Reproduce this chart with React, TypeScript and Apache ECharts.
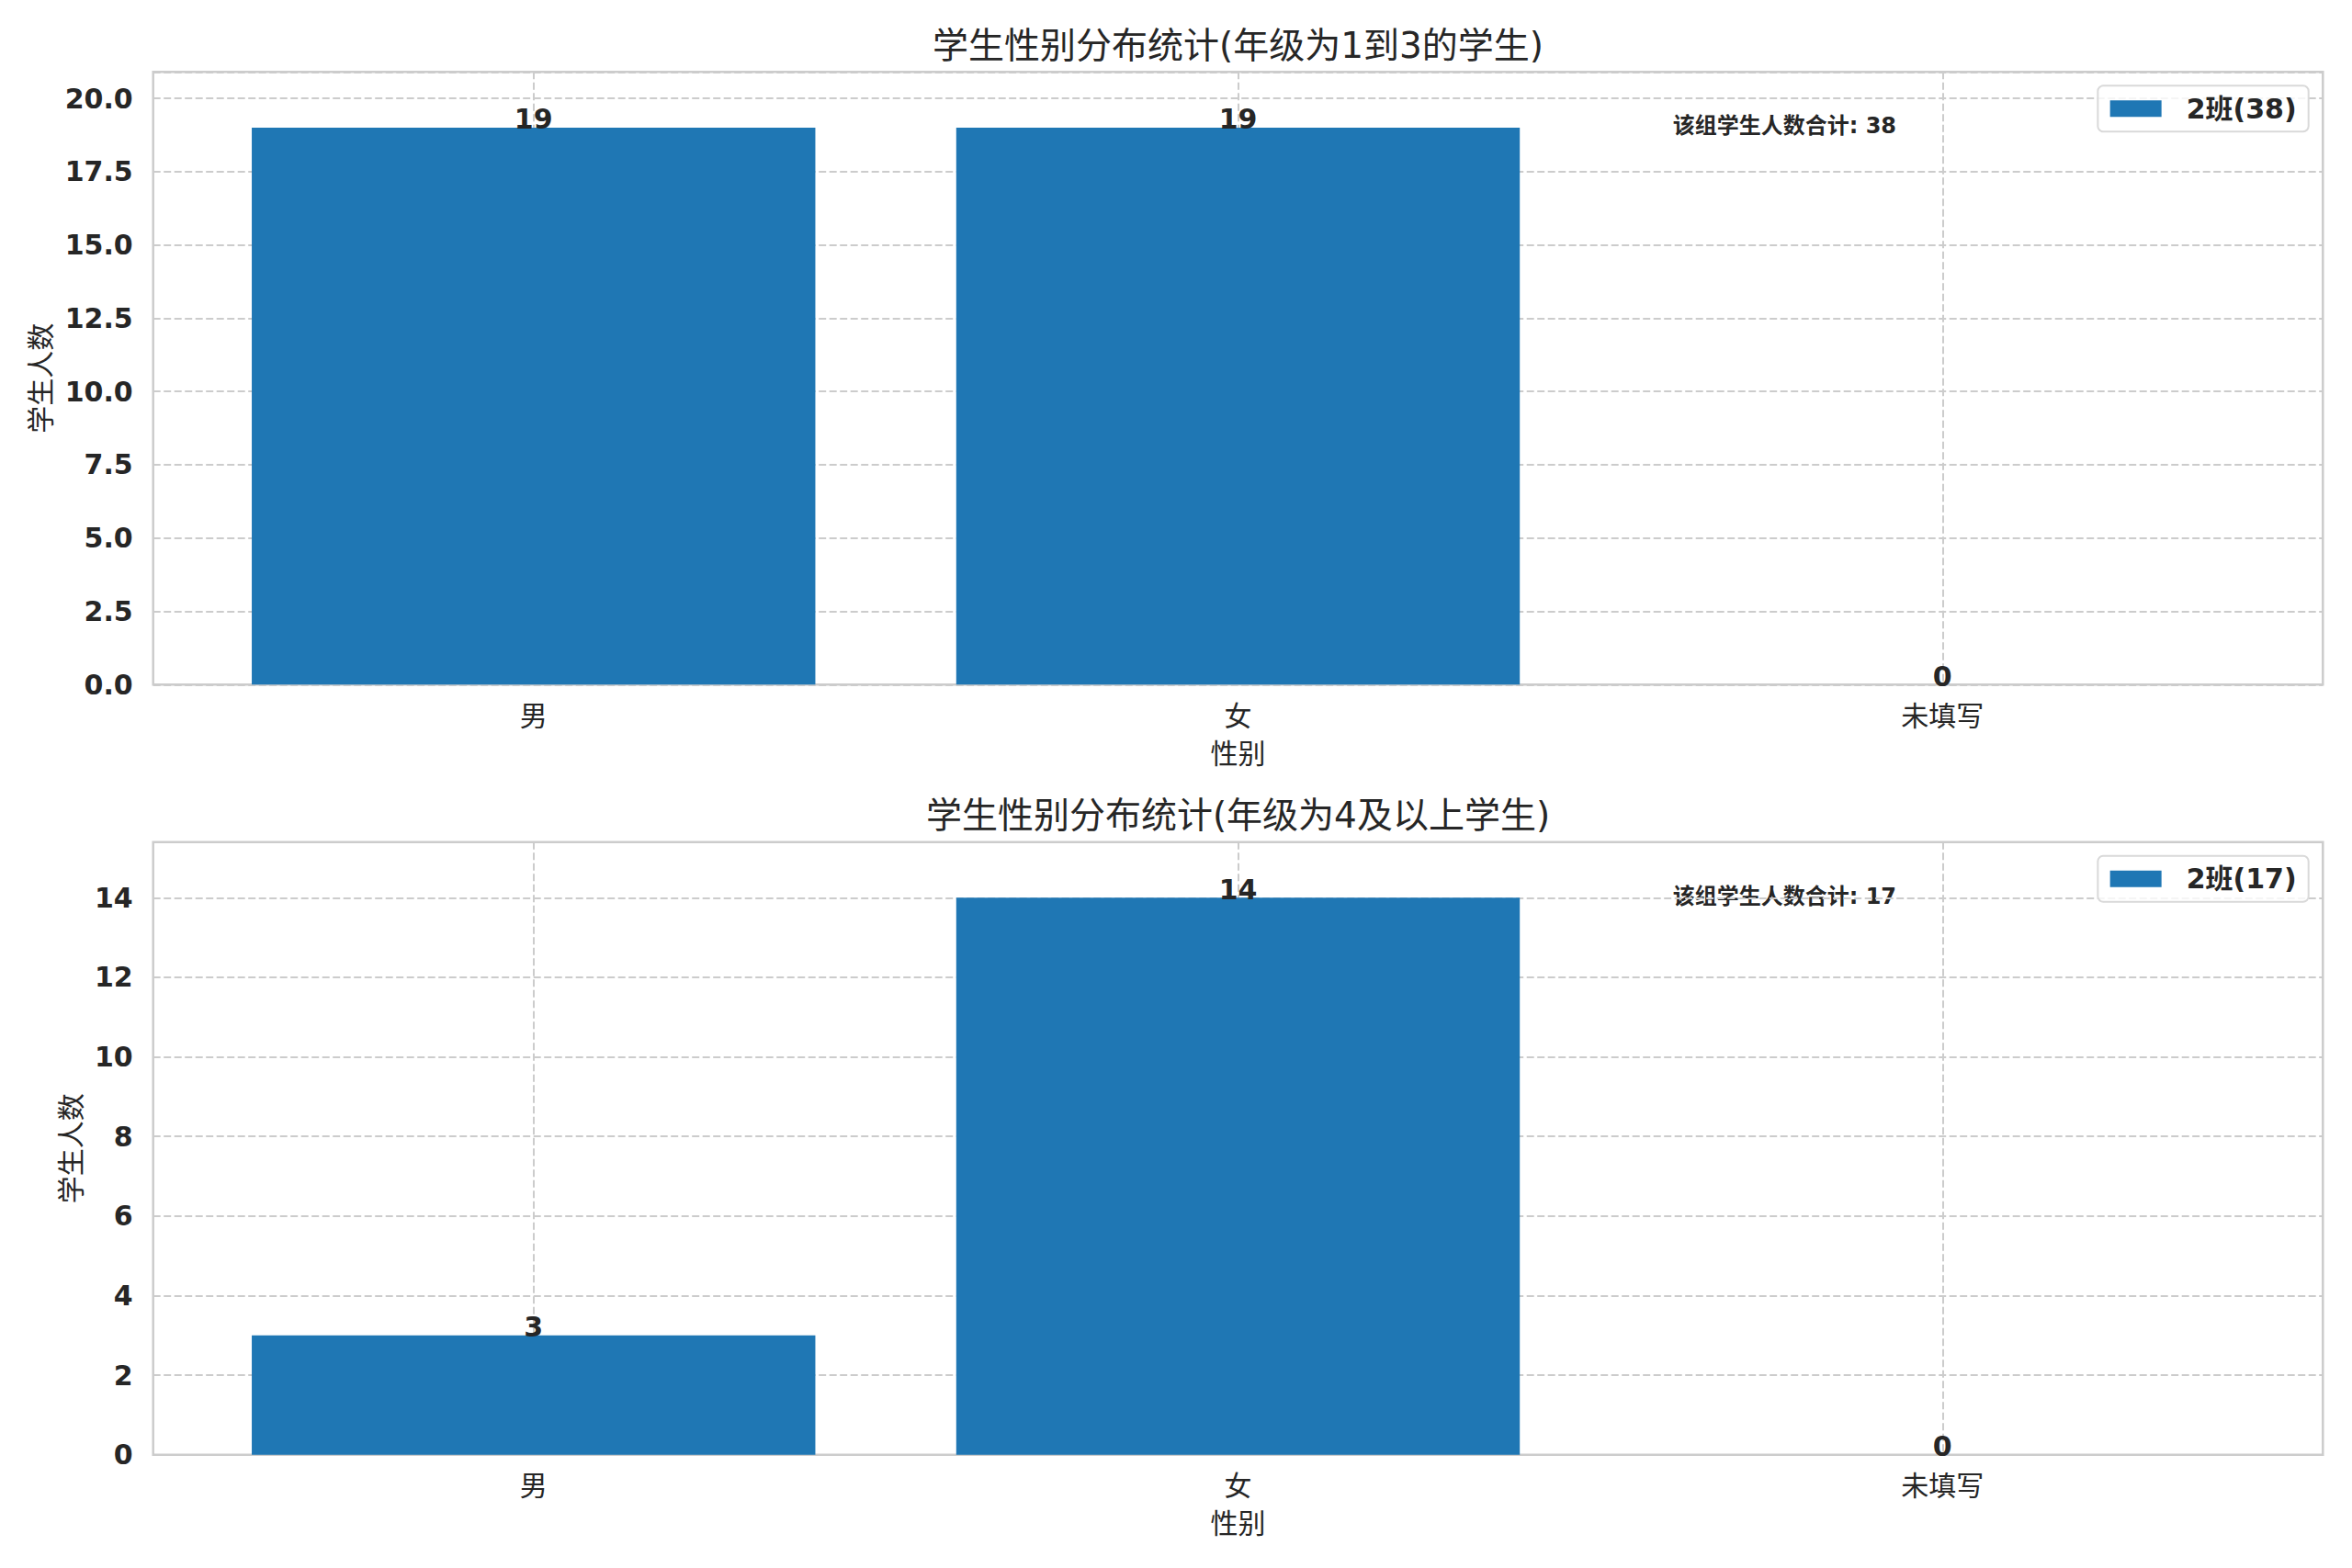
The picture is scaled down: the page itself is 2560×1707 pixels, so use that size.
import React, { useEffect, useRef } from 'react';
import * as echarts from 'echarts';

const categories = ['男', '女', '未填写'];
const upperValues = [19, 19, 0];
const lowerValues = [3, 14, 0];
const upperLegend = '2班(38)';
const lowerLegend = '2班(17)';
const upperTitle = '学生性别分布统计(年级为1到3的学生)';
const lowerTitle = '学生性别分布统计(年级为4及以上学生)';
const totalLabel = '该组学生人数合计';
const upperTotal = 38;
const lowerTotal = 17;
const xAxisName = '性别';
const yAxisName = '学生人数';
const upperTickStep = 2.5;
const lowerTickStep = 2;
const categoryTicks = [0, 1, 2];

const FONT = "'DejaVu Sans', 'Noto Sans CJK SC', sans-serif";
const TEXT = '#262626';
const GRID_COLOR = '#cccccc';

const GL = 166.7;
const GW = 2361.6;
const GH = 667;
const TOPS = [78.3, 916.7];
const XMIN = -0.54;
const XMAX = 2.54;

function buildOption() {
  const panels = [
    { values: upperValues, legend: upperLegend, title: upperTitle, total: upperTotal, step: upperTickStep, decimals: 1, nameGap: 105 },
    { values: lowerValues, legend: lowerLegend, title: lowerTitle, total: lowerTotal, step: lowerTickStep, decimals: 0, nameGap: 73 },
  ];
  const barWidth = (0.8 * GW) / (XMAX - XMIN);
  const dash = { color: GRID_COLOR, width: 2, type: [8, 3.5] as any };

  const grid: any[] = [];
  const xAxis: any[] = [];
  const yAxis: any[] = [];
  const series: any[] = [];
  const legend: any[] = [];
  const graphic: any[] = [];

  panels.forEach((p, i) => {
    const top = TOPS[i];
    grid.push({ left: GL, top, width: GW, height: GH, show: true, borderColor: GRID_COLOR, borderWidth: 2.5, backgroundColor: 'transparent' });
    xAxis.push({
      type: 'value',
      gridIndex: i,
      min: XMIN,
      max: XMAX,
      axisLine: { show: false },
      axisTick: { show: false, customValues: categoryTicks },
      axisLabel: {
        customValues: categoryTicks,
        formatter: (v: number) => categories[Math.round(v)] ?? '',
        fontSize: 30,
        color: TEXT,
        fontFamily: FONT,
        margin: 19,
      },
      splitLine: { show: true, lineStyle: dash },
      name: xAxisName,
      nameLocation: 'middle',
      nameGap: 60,
      nameTextStyle: { fontSize: 30, color: TEXT, fontFamily: FONT },
    });
    yAxis.push({
      type: 'value',
      gridIndex: i,
      min: 0,
      max: Math.max(...p.values) * 1.1,
      interval: p.step,
      axisLine: { show: false },
      axisTick: { show: false },
      axisLabel: {
        showMaxLabel: false,
        formatter: (v: number) => v.toFixed(p.decimals),
        fontSize: 30,
        fontWeight: 'bold',
        color: TEXT,
        fontFamily: FONT,
        margin: 22,
      },
      splitLine: { show: true, lineStyle: dash },
      name: yAxisName,
      nameLocation: 'middle',
      nameGap: p.nameGap,
      nameRotate: 90,
      nameTextStyle: { fontSize: 30, color: TEXT, fontFamily: FONT },
    });
    series.push({
      type: 'bar',
      name: p.legend,
      xAxisIndex: i,
      yAxisIndex: i,
      barWidth,
      data: p.values.map((v, k) => [k, v]),
      itemStyle: { color: '#1f77b4' },
      label: {
        show: true,
        position: 'top',
        distance: -6,
        formatter: (d: any) => String(d.value[1]),
        fontSize: 30,
        fontWeight: 'bold',
        color: TEXT,
        fontFamily: FONT,
      },
    });
    legend.push({
      data: [p.legend],
      right: 2560 - 2512.7,
      top: top + 15,
      orient: 'vertical',
      selectedMode: false,
      icon: 'rect',
      itemWidth: 56,
      itemHeight: 18,
      padding: [10, 13, 10, 13.3],
      borderColor: '#d9d9d9',
      borderWidth: 2,
      borderRadius: 6,
      backgroundColor: 'rgba(255,255,255,0.8)',
      textStyle: { fontSize: 30, fontWeight: 'bold', color: TEXT, fontFamily: FONT, padding: [0, 0, 0, 22] },
    });
    graphic.push({
      type: 'text',
      x: GL + GW / 2,
      y: top - 29.3,
      style: { text: p.title, fontSize: 39, fill: TEXT, fontFamily: FONT, align: 'center', verticalAlign: 'middle' },
    });
    graphic.push({
      type: 'text',
      x: 1820.7,
      y: top + 59,
      style: { text: `${totalLabel}: ${p.total}`, fontSize: 24, fontWeight: 'bold', fill: TEXT, fontFamily: FONT, align: 'left', verticalAlign: 'middle' },
    });
  });

  return {
    animation: false,
    backgroundColor: '#ffffff',
    textStyle: { fontFamily: FONT },
    grid,
    xAxis,
    yAxis,
    series,
    legend,
    graphic,
  };
}

export default function App() {
  const ref = useRef<HTMLDivElement>(null);
  useEffect(() => {
    document.body.style.margin = '0';
    if (!ref.current) return;
    const chart = echarts.init(ref.current, null, { renderer: 'svg' });
    chart.setOption(buildOption() as any);
    return () => chart.dispose();
  }, []);
  return <div ref={ref} style={{ width: 2560, height: 1707, background: '#fff' }} />;
}
